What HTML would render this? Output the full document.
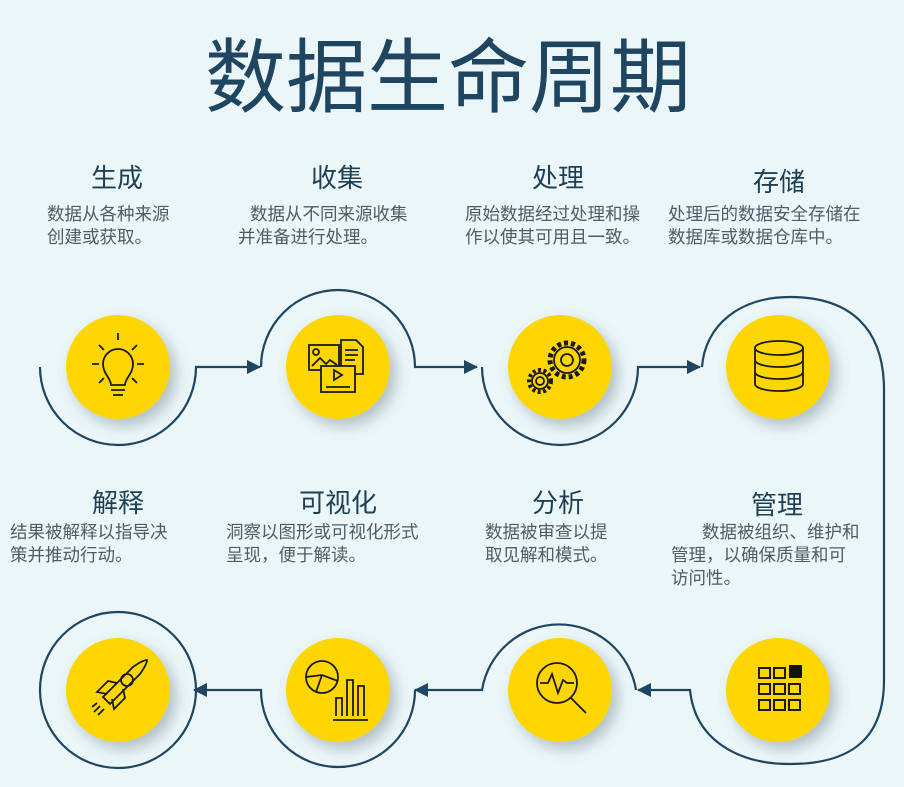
<!DOCTYPE html>
<html><head><meta charset="utf-8"><style>
html,body{margin:0;padding:0;background:#eaf6f8;}
svg{display:block}
text{font-family:"Liberation Sans","Noto Sans CJK SC",sans-serif;}
.t{fill:#1f3f55;font-size:26px;text-anchor:middle}
.d{fill:#4d5c66;font-size:17.5px}
</style></head><body>
<svg width="904" height="787" viewBox="0 0 904 787" xmlns="http://www.w3.org/2000/svg">
<defs>
<filter id="sh" x="-40%" y="-40%" width="190%" height="190%"><feDropShadow dx="6" dy="7" stdDeviation="7" flood-color="#6b7f88" flood-opacity="0.45"/></filter>
<marker id="ar" markerWidth="14" markerHeight="14" refX="13" refY="7" orient="auto" markerUnits="userSpaceOnUse"><path d="M0,0 L14,7 L0,14 Z" fill="#1f4560"/></marker>
</defs>
<rect width="904" height="787" fill="#eaf6f8"/>
<text x="448" y="106" text-anchor="middle" font-size="81" fill="#1f4560">数据生命周期</text>

<text class="t" x="117" y="187">生成</text>
<text class="d" x="47" y="220">数据从各种来源</text>
<text class="d" x="47" y="243">创建或获取。</text>
<text class="t" x="337" y="187">收集</text>
<text class="d" x="250" y="220">数据从不同来源收集</text>
<text class="d" x="238" y="243">并准备进行处理。</text>
<text class="t" x="558" y="187">处理</text>
<text class="d" x="465" y="220">原始数据经过处理和操</text>
<text class="d" x="465" y="243">作以使其可用且一致。</text>
<text class="t" x="779" y="191" font-size="30">存储</text>
<text class="d" x="668" y="220">处理后的数据安全存储在</text>
<text class="d" x="668" y="243">数据库或数据仓库中。</text>

<text class="t" x="118" y="512">解释</text>
<text class="d" x="10" y="538">结果被解释以指导决</text>
<text class="d" x="10" y="561">策并推动行动。</text>
<text class="t" x="338" y="512">可视化</text>
<text class="d" x="226" y="538">洞察以图形或可视化形式</text>
<text class="d" x="226" y="561">呈现，便于解读。</text>
<text class="t" x="558" y="512">分析</text>
<text class="d" x="485" y="538">数据被审查以提</text>
<text class="d" x="485" y="561">取见解和模式。</text>
<text class="t" x="777" y="514" font-size="28">管理</text>
<text class="d" x="702" y="538">数据被组织、维护和</text>
<text class="d" x="671" y="561">管理，以确保质量和可</text>
<text class="d" x="671" y="584">访问性。</text>

<g fill="none" stroke="#1f4560" stroke-width="2.2">
<path d="M40,367 A78,78 0 0 0 196,367 L260,367" marker-end="url(#ar)"/>
<path d="M261,367 A77,77 0 0 1 415,367 L477,367" marker-end="url(#ar)"/>
<path d="M482,367 A78,78 0 0 0 638,367 L700,367" marker-end="url(#ar)"/>
<path d="M702,367 C705,325 740,297 790,297 C852,297 884,330 884,390 L884,680 C884,735 855,764 790,764 C738,764 695,740 690,690 L638,690" marker-end="url(#ar)"/>
<path d="M636,690 A78,78 0 0 0 482,690 L415,690" marker-end="url(#ar)"/>
<path d="M415,690 A77,77 0 0 1 261,690 L194,690" marker-end="url(#ar)"/>
<circle cx="118" cy="690" r="78"/>
</g>

<g fill="#fdd600" filter="url(#sh)">
<circle cx="118" cy="367" r="52"/><circle cx="338" cy="367" r="52"/>
<circle cx="560" cy="367" r="52"/><circle cx="778" cy="367" r="52"/>
<circle cx="118" cy="690" r="52"/><circle cx="338" cy="690" r="52"/>
<circle cx="560" cy="690" r="52"/><circle cx="778" cy="690" r="52"/>
</g>

<g fill="none" stroke="#1a1a1a" stroke-width="1.8">
<path d="M111,385 C111,378 103,374 103,364 A15,15 0 1 1 133,364 C133,374 125,378 125,385 Z"/>
<path d="M111,390 H125 M113,395 H123"/>
<path d="M118,333 V340 M92,364 H99 M137,364 H144 M99,345 L104,350 M137,345 L132,350 M99,383 L104,378 M137,383 L132,378"/>
<rect x="309" y="345" width="30" height="25"/><circle cx="316" cy="352" r="3"/><path d="M312,366 L320,358 L326,364 L330,360 L337,365"/>
<path d="M341,340 H356 L363,347 V374 H341 Z M345,350 H358 M345,355 H358 M345,360 H355"/>
<rect x="321" y="366" width="34" height="26" fill="#fdd600"/><path d="M334,370 L342,375 L334,380 Z M326,387 H350"/>
<circle cx="567" cy="360" r="17" stroke-dasharray="4 3" stroke-width="5"/><circle cx="567" cy="360" r="13"/><circle cx="567" cy="360" r="6"/>
<circle cx="540" cy="381" r="11" stroke-dasharray="3 2.5" stroke-width="4"/><circle cx="540" cy="381" r="8"/><circle cx="540" cy="381" r="4"/>
<ellipse cx="779" cy="348" rx="24" ry="7"/><path d="M755,348 V384 A24,7 0 0 0 803,384 V348 M755,360 A24,7 0 0 0 803,360 M755,372 A24,7 0 0 0 803,372"/>
<path d="M103,697 L133,667 C140,662 145,660 147,660 C147,662 145,667 140,674 L110,704 Z"/><circle cx="127" cy="680" r="6"/>
<path d="M107,694 L97,692 L108,681 L117,683 M112,699 L114,709 L125,698 L123,689 M100,706 L94,712 M104,709 L98,715 M97,703 L92,707"/>
<circle cx="322" cy="677" r="16"/><path d="M306,677 L322,675 L338,681 M322,675 L316,692"/>
<path d="M336,716 V698 H342 V716 M347,716 V680 H353 V716 M358,716 V686 H364 V716 M333,720 H368"/>
<circle cx="557" cy="683" r="20"/><path d="M540,683 H548 L552,674 L558,693 L563,680 L567,683 H574 M571,698 L586,713"/>
</g>
<g fill="none" stroke="#1a1a1a" stroke-width="2">
<rect x="759" y="668" width="11" height="10"/><rect x="774" y="668" width="11" height="10"/>
<rect x="759" y="684" width="11" height="10"/><rect x="774" y="684" width="11" height="10"/><rect x="789" y="684" width="11" height="10"/>
<rect x="759" y="700" width="11" height="10"/><rect x="774" y="700" width="11" height="10"/><rect x="789" y="700" width="11" height="10"/>
</g>
<rect x="789" y="665" width="13" height="13" fill="#111"/>
</svg>
</body></html>
